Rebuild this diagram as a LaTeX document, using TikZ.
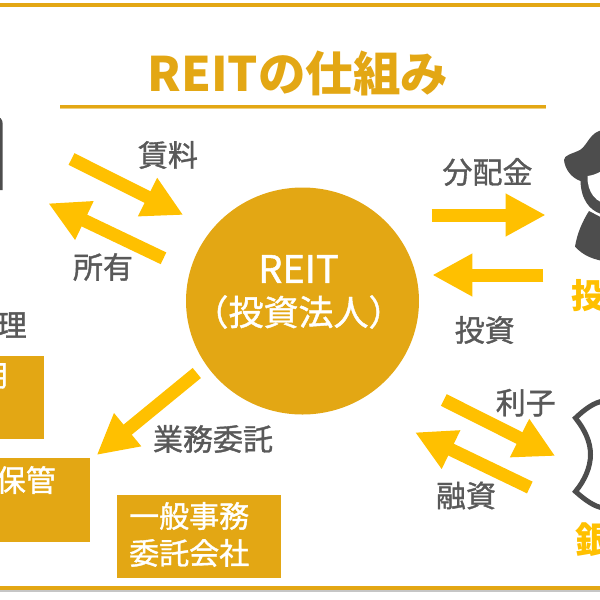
\documentclass[tikz,border=0pt]{standalone}
\usepackage{fontspec}
\setmainfont{Noto Sans CJK JP}
\newfontfamily\midfont[FakeBold=1.2]{Noto Sans CJK JP}
\usetikzlibrary{arrows.meta}
\usetikzlibrary{shapes.geometric}

\definecolor{reitgold}{HTML}{E3A714}
\definecolor{arrowgold}{HTML}{FFC000}
\definecolor{labelgray}{HTML}{595959}
\definecolor{icongray}{HTML}{4D4D4D}

\tikzset{
    blockarrow/.style={draw=arrowgold, line width=13pt, -{Triangle[length=40pt, width=40pt]}},
    flowlabel/.style={text=labelgray, inner sep=0pt, font=\midfont\fontsize{30}{34}\selectfont},
    partybox/.style={rectangle, fill=reitgold, inner sep=0pt},
    boxtext/.style={text=white, inner sep=0pt, align=left, font=\midfont\fontsize{30}{37}\selectfont},
    partyname/.style={text=arrowgold, inner sep=0pt, font=\bfseries\fontsize{34}{40}\selectfont}
}

\begin{document}
\begin{tikzpicture}[x=1pt, y=-1pt]

\useasboundingbox (0,0) rectangle (600,600);
\clip (0,0) rectangle (600,600);

% Frame and title
\fill[reitgold] (0,3.3) rectangle (600,6.7);
\fill[gray!45] (0,589) rectangle (600,592);
\fill[reitgold] (0,586) rectangle (600,590);
\node[text=reitgold, inner sep=0pt, font=\bfseries\fontsize{47.5}{54}\selectfont] (title) at (298,73) {REITの仕組み};
\fill[reitgold!55] (60,105) rectangle (546,109.3);
\fill[reitgold] (60,105) rectangle (546,107.7);

% Centre
\node[ellipse, fill=reitgold, inner sep=0pt, minimum width=233pt, minimum height=227pt] (reit) at (302.5,301) {};
\node[text=white, inner sep=0pt, font=\midfont\fontsize{38}{44}\selectfont] (reitname) at (298.5,269) {REIT};
\node[text=white, inner sep=0pt, font=\midfont\fontsize{35}{44}\selectfont] (reitlegal) at (298.5,312) {（投資法人）};

% Boxes
\node[partybox, minimum width=164pt, minimum height=83.3pt] (officebox) at (199,536.7) {};
\node[partybox, minimum width=164pt, minimum height=83.3pt] (assetbox) at (-38,397.4) {};
\node[partybox, minimum width=164pt, minimum height=84pt] (custodybox) at (8,500) {};
\node[boxtext, anchor=west] (officetext) at (129,534.5) {一般事務\\委託会社};
\node[boxtext, anchor=east] (assettext) at (9,376) {用};
\node[boxtext, anchor=east] (custodytext) at (56,480) {保管};

% Icons at the edges
\fill[icongray] (-5,116.5) .. controls (0,116.5) and (2.7,119) .. (2.7,124) -- (2.7,190) -- (-5,190) -- cycle;
\fill[icongray] (564,160) .. controls (564,155) and (572,154) .. (580,150) .. controls (588,145) and (590,131) .. (604,130) -- (620,130) -- (620,225) -- (600,213.5) .. controls (590,210) and (581,200) .. (580.5,181) .. controls (572,178) and (565,170) .. (564,160) -- cycle;
\fill[white] (587.5,176) .. controls (587,192) and (596,204) .. (610,204) -- (610,170) -- (600,172) .. controls (596,174) and (592,175.5) .. (587.5,176) -- cycle;
\fill[icongray] (589,211) .. controls (582,222) and (577,234) .. (575,246.7) .. controls (583,255) and (592,260) .. (610,262) -- (610,222) -- cycle;
\draw[icongray, line width=5pt, miter limit=10] (604,401) .. controls (594,402) and (584,410) .. (575.5,418) .. controls (585,430) and (590.5,442) .. (590.5,454.5) .. controls (590.5,467) and (585,480) .. (575.5,491.5) .. controls (584,499) and (594,507) .. (604,508);

% Party names
\node[partyname, anchor=west] (investor) at (571,296) {投};
\node[partyname, anchor=west, font=\bfseries\fontsize{36}{42}\selectfont] (bank) at (575,540) {銀};

% Flow labels
\foreach \name/\pos/\txt in {rent/{168,155}/賃料, own/{103,267}/所有, dividend/{487.5,172}/分配金, invest/{484.7,330}/投資, entrust/{213,439}/業務委託, interest/{525.8,402.7}/利子, loan/{466,495.5}/融資} {
    \node[flowlabel] (\name) at (\pos) {\txt};
}
\node[flowlabel, anchor=east] (manage) at (27,325) {理};

% Arrows
\foreach \i/\tail/\tip in {1/{71.5,159}/{183.3,215}, 2/{163.5,258.3}/{48.3,203.3}, 3/{431.7,215}/{545.7,215}, 4/{543.3,275}/{432.3,275}, 5/{196.8,373}/{96.7,455}, 6/{443.8,400}/{555.3,456}, 7/{529.8,487.5}/{415,432.3}} {
    \coordinate (a\i) at (\tail);
    \coordinate (b\i) at (\tip);
    \draw[blockarrow] (a\i) -- (b\i);
}

\end{tikzpicture}
\end{document}
